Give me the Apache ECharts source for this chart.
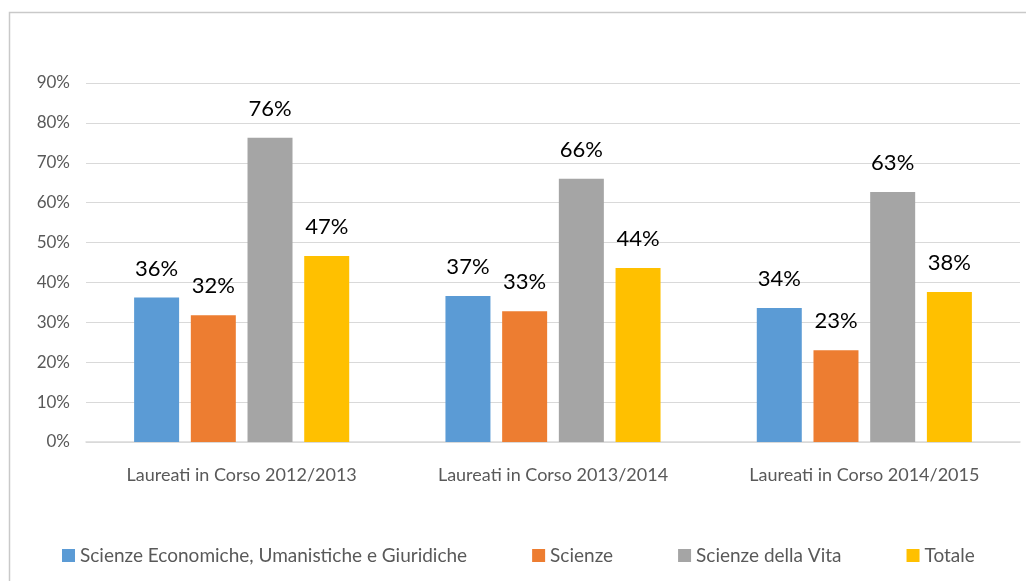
<!DOCTYPE html>
<html>
<head>
<meta charset="utf-8">
<script src="https://cdn.jsdelivr.net/npm/echarts@6/dist/echarts.min.js"></script>
<style>
  html, body { margin: 0; padding: 0; background: #fff; }
  #chart { width: 1026px; height: 581px; }
</style>
</head>
<body>
<div id="chart"></div>
<script>
const categories = [
  "Laureati in Corso 2012/2013",
  "Laureati in Corso 2013/2014",
  "Laureati in Corso 2014/2015",
];
const seriesNames = [
  "Scienze Economiche, Umanistiche e Giuridiche",
  "Scienze",
  "Scienze della Vita",
  "Totale",
];
// percent values
const economiche = [36.2, 36.6, 33.6];
const scienze = [31.8, 32.8, 23.0];
const vita = [76.3, 66.0, 62.7];
const totale = [46.6, 43.6, 37.6];
const colors = ["#5B9BD5", "#ED7D31", "#A5A5A5", "#FFC000"];

const font = "Lato, 'Open Sans', sans-serif";

const chart = echarts.init(document.getElementById("chart"));

const makeSeries = (name, data, i) => ({
  name: name,
  type: "bar",
  data: data,
  barWidth: 45,
  barGap: "26%",
  itemStyle: { color: colors[i] },
  label: {
    show: true,
    position: "top",
    distance: 18,
    formatter: (p) => Math.round(p.value) + "%",
    color: "#000",
    fontSize: 22,
    fontFamily: font,
  },
});

chart.setOption({
  animation: false,
  backgroundColor: "#fff",
  textStyle: { fontFamily: font },
  graphic: [
    {
      type: "rect",
      shape: { x: 9.5, y: 12.5, width: 1200, height: 800 },
      style: { fill: null, stroke: "#c9c9c9", lineWidth: 1.5 },
      silent: true,
    },
  ],
  grid: { left: 86, right: 6, top: 83, bottom: 139 },
  legend: {
    top: 546,
    left: 62,
    padding: 0,
    itemWidth: 13,
    itemHeight: 13,
    itemGap: 65,
    icon: "rect",
    textStyle: { color: "#595959", fontSize: 19, fontFamily: font },
    data: seriesNames,
  },
  xAxis: {
    type: "category",
    data: categories,
    axisTick: { show: false },
    axisLine: { lineStyle: { color: "#d9d9d9", width: 1.5 } },
    axisLabel: { color: "#595959", fontSize: 18, margin: 24, fontFamily: font },
  },
  yAxis: {
    type: "value",
    min: 0,
    max: 90,
    interval: 10,
    axisLine: { show: false },
    axisTick: { show: false },
    splitLine: { lineStyle: { color: "#d9d9d9", width: 1 } },
    axisLabel: { color: "#595959", fontSize: 17, margin: 16, formatter: "{value}%", fontFamily: font },
  },
  series: [
    makeSeries(seriesNames[0], economiche, 0),
    makeSeries(seriesNames[1], scienze, 1),
    makeSeries(seriesNames[2], vita, 2),
    makeSeries(seriesNames[3], totale, 3),
  ],
});

window.addEventListener("resize", chart.resize);
</script>
</body>
</html>
